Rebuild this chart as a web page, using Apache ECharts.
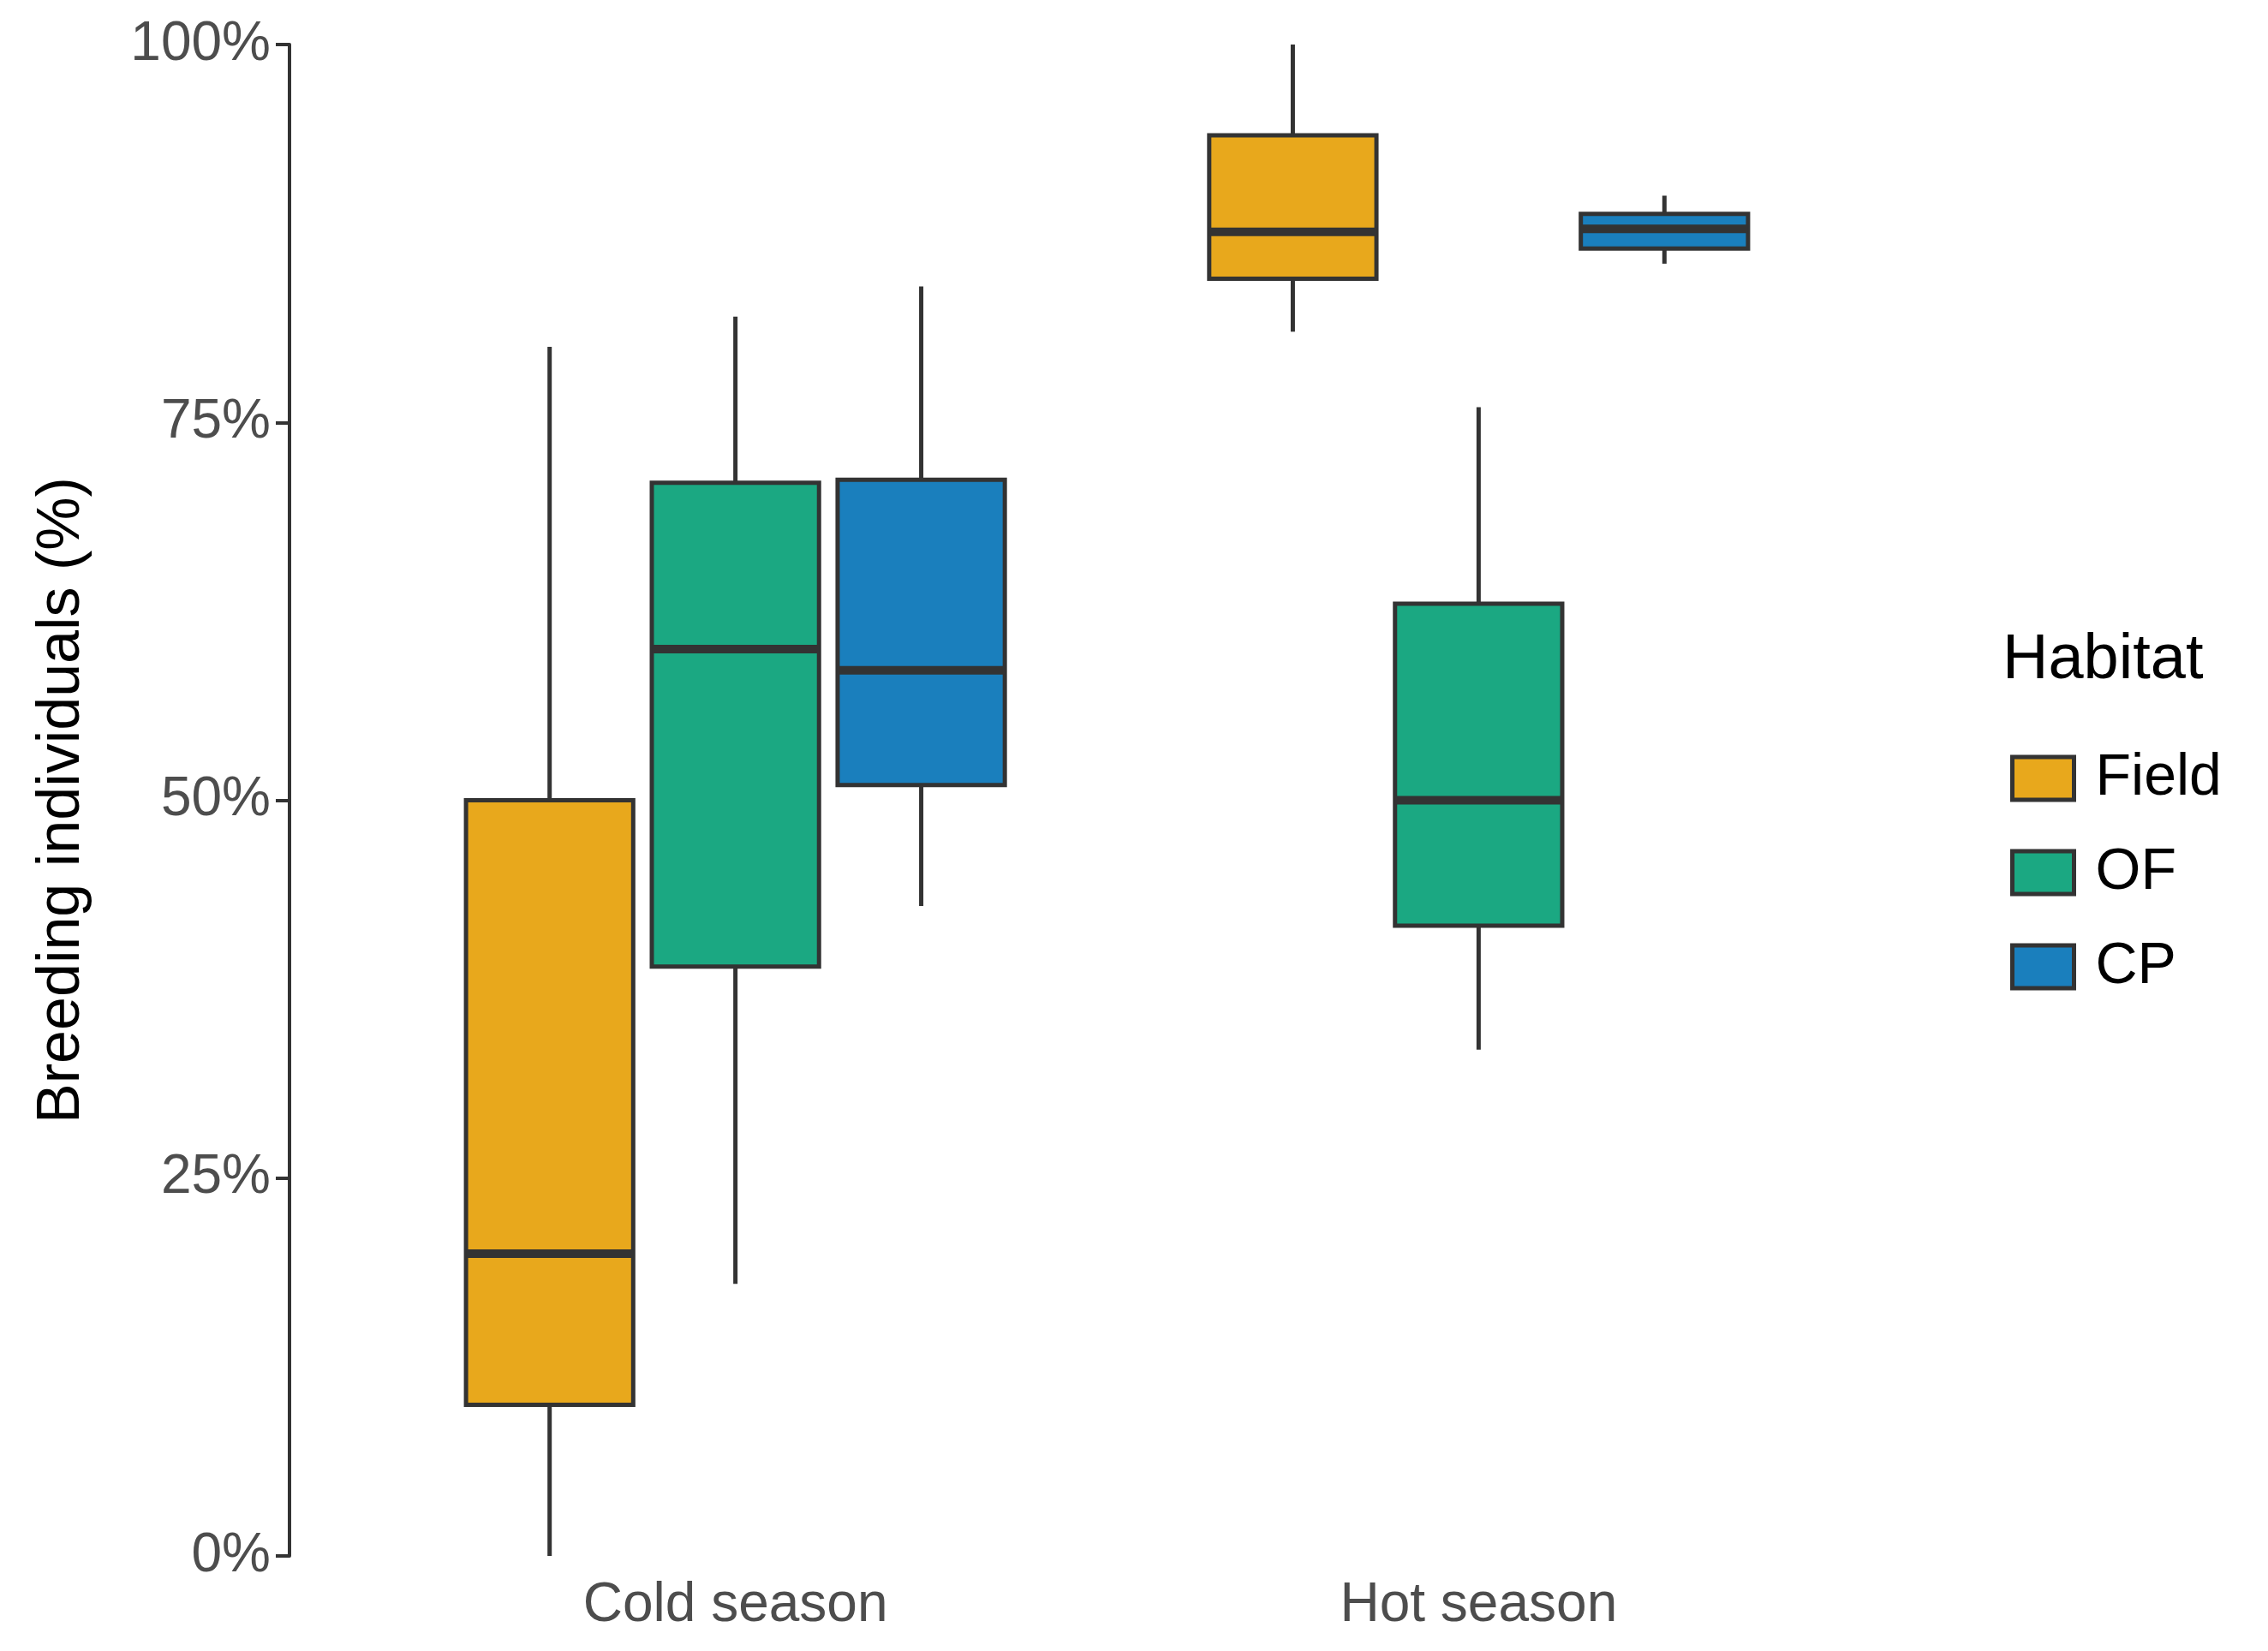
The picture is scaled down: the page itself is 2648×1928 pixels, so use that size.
<!DOCTYPE html>
<html><head><meta charset="utf-8">
<script src="https://cdn.jsdelivr.net/npm/echarts@6/dist/echarts.min.js"></script>
<style>html,body{margin:0;padding:0;background:#fff}#c{width:2648px;height:1928px}</style>
</head><body><div id="c"></div>
<script>
const categories = ['Cold season', 'Hot season'];
const habitats = ['Field', 'OF', 'CP'];
const colors = ['#E8A81C', '#1BA882', '#1A7FBD'];
// [min, Q1, median, Q3, max] per category
const fieldBox = [[0, 10, 20, 50, 80], [81, 84.5, 87.6, 94, 100]];
const ofBox = [[18, 39, 60, 71, 82], [33.5, 41.7, 50, 63, 76]];
const cpBox = [[43, 51, 58.6, 71.2, 84], [85.5, 86.5, 87.8, 88.8, 90]];
const yTicks = [0, 25, 50, 75, 100];
const allBoxes = [fieldBox, ofBox, cpBox];

const chart = echarts.init(document.getElementById('c'));
const dodge = 0.25, bw = 0.225, stroke = '#333333', lw = 5;

function makeSeries(k) {
  return {
    name: habitats[k], type: 'custom',
    itemStyle: { color: colors[k], borderColor: stroke },
    data: allBoxes[k].map((b, i) => [i + 1, ...b]),
    renderItem: function (params, api) {
      const x = api.value(0) + (k - 1) * dodge;
      const v = [1, 2, 3, 4, 5].map(j => api.value(j));
      const L = api.coord([x - bw / 2, v[2]])[0], R = api.coord([x + bw / 2, v[2]])[0];
      const cx = api.coord([x, 0])[0];
      const y = v.map(t => api.coord([x, t])[1]);
      return { type: 'group', children: [
        { type: 'line', shape: { x1: cx, y1: y[0], x2: cx, y2: y[1] }, style: { stroke: stroke, lineWidth: lw } },
        { type: 'line', shape: { x1: cx, y1: y[3], x2: cx, y2: y[4] }, style: { stroke: stroke, lineWidth: lw } },
        { type: 'rect', shape: { x: L, y: y[3], width: R - L, height: y[1] - y[3] }, style: { fill: colors[k], stroke: stroke, lineWidth: lw } },
        { type: 'line', shape: { x1: L, y1: y[2], x2: R, y2: y[2] }, style: { stroke: stroke, lineWidth: lw * 2 } }
      ] };
    }
  };
}

chart.setOption({
  animation: false,
  backgroundColor: '#ffffff',
  grid: { left: 338, right: 401, top: 52, bottom: 111, containLabel: false },
  xAxis: {
    type: 'value', min: 0.4, max: 2.6,
    axisLine: { show: false }, splitLine: { show: false },
    axisTick: { show: false },
    axisLabel: { customValues: [1, 2], formatter: v => categories[Math.round(v) - 1] || '',
      fontSize: 64, color: '#4D4D4D', margin: 26, fontFamily: 'Liberation Sans' }
  },
  yAxis: {
    type: 'value', min: 0, max: 100, interval: 25,
    name: 'Breeding individuals (%)', nameLocation: 'middle', nameGap: 230,
    nameTextStyle: { fontSize: 70, color: '#000', fontFamily: 'Liberation Sans' },
    axisLine: { show: true, lineStyle: { color: '#333', width: 4 } },
    axisTick: { show: true, length: 16, lineStyle: { color: '#333', width: 4 } },
    splitLine: { show: false },
    axisLabel: { formatter: '{value}%', fontSize: 64, color: '#4D4D4D', margin: 22, fontFamily: 'Liberation Sans' }
  },
  legend: {
    orient: 'vertical', left: 2342, top: 870, itemWidth: 72, itemHeight: 50, itemGap: 42,
    data: habitats.map((h, k) => ({ name: h, icon: 'rect', itemStyle: { color: colors[k], borderColor: stroke, borderWidth: 5 } })),
    textStyle: { fontSize: 68, color: '#000', fontFamily: 'Liberation Sans', padding: [0, 0, 0, 20] }
  },
  graphic: [{ type: 'text', left: 2338, top: 735, style: { text: 'Habitat', fontSize: 74, fill: '#000', fontFamily: 'Liberation Sans' } }],
  series: [0, 1, 2].map(makeSeries)
});
</script></body></html>
